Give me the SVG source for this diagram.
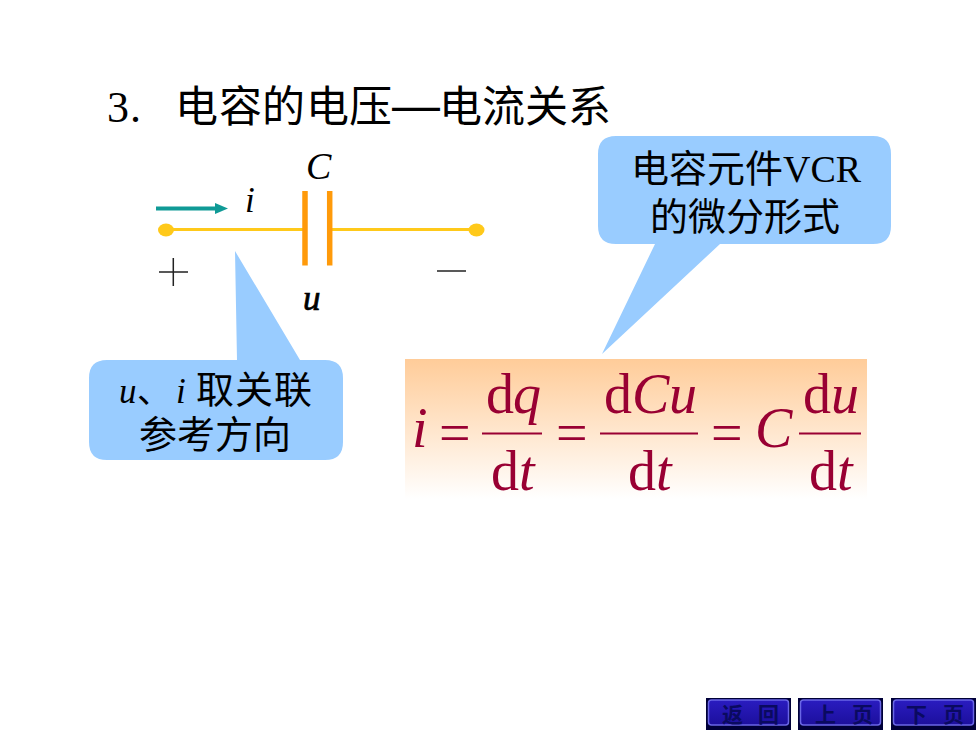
<svg xmlns="http://www.w3.org/2000/svg" width="980" height="735" viewBox="0 0 980 735">
<defs>
<linearGradient id="fade" x1="0" y1="0" x2="0" y2="1"><stop offset="0" stop-color="#ffcc99"/><stop offset="1" stop-color="#ffffff"/></linearGradient>
<linearGradient id="btn" x1="0" y1="0" x2="0" y2="1"><stop offset="0" stop-color="#2a1cc0"/><stop offset="1" stop-color="#1c0f9c"/></linearGradient>
</defs>
<style>
.cjk{font-family:"Noto Sans CJK SC",sans-serif;fill:#000;font-weight:400}
.it{font-family:"Liberation Serif","Noto Sans CJK SC",serif;font-style:italic;fill:#000}
.eq{font-family:"Liberation Serif",serif;fill:#990033;font-size:56px}
.eqi{font-style:italic}
.bub{fill:#99ccff}
.wire{stroke:#ffc91a;stroke-width:3;fill:none}
.plate{stroke:#ff9a0a;stroke-width:5.5;fill:none}
.fr{stroke:#990033;stroke-width:2}
.bt{font-family:"Noto Sans CJK SC",sans-serif;font-size:21px;fill:#0a0a60;font-weight:700}
.bo{fill:url(#btn);stroke:#6a66e6;stroke-width:1.5}
</style>
<rect width="980" height="735" fill="#fff"/>
<g id="title">
<text y="122" class="cjk" font-size="43"><tspan x="107" font-family="Liberation Serif,serif" font-size="44">3</tspan><tspan x="130" font-family="Liberation Serif,serif" font-size="44">.</tspan><tspan x="175 219 262 306 349">电容的电压</tspan><tspan x="392" font-family="Liberation Sans,sans-serif" font-size="48">—</tspan><tspan x="439 482 525 568">电流关系</tspan></text>
</g>
<g id="connectors">
<line class="wire" x1="166" y1="229.500" x2="304" y2="229.500"/>
<line class="wire" x1="329" y1="229.500" x2="476" y2="229.500"/>
<line x1="156" y1="208.500" x2="216" y2="208.500" stroke="#0f9a96" stroke-width="4"/>
<polygon points="215,203 228,208.500 215,214" fill="#0f9a96"/>
</g>
<g id="capacitor">
<line class="plate" x1="305" y1="191" x2="305" y2="265.500"/>
<line class="plate" x1="329.700" y1="191" x2="329.700" y2="265.500"/>
<text x="306" y="179" class="it" font-size="38">C</text>
</g>
<g id="terminal-plus">
<ellipse cx="166" cy="230" rx="8" ry="6.500" fill="#ffc91a"/>
<path d="M159 272H188M173.300 258V286" stroke="#222" stroke-width="1.500" fill="none"/>
</g>
<g id="terminal-minus">
<ellipse cx="476.500" cy="230" rx="8" ry="6.500" fill="#ffc91a"/>
<path d="M437 271H466" stroke="#222" stroke-width="1.500" fill="none"/>
</g>
<g id="label-i"><text x="245" y="212" class="it" font-size="35">i</text></g>
<g id="label-u"><text x="303" y="310" class="it" font-size="35" stroke="#000" stroke-width="0.700">u</text></g>
<g id="callout-left">
<path class="bub" d="M235 251L300 360H325Q343 360 343 378V442Q343 460 325 460H107Q89 460 89 442V378Q89 360 107 360H237Z"/>
<text y="403" class="cjk" font-size="38"><tspan x="119" class="it" font-size="35">u</tspan><tspan x="137" font-size="34">、</tspan><tspan x="176" class="it" font-size="35">i</tspan><tspan x="196 235 274">取关联</tspan></text>
<text y="448" class="cjk" font-size="38" x="139 177 215 253">参考方向</text>
</g>
<g id="callout-right">
<path class="bub" d="M602 354L655 244H616Q598 244 598 226V154Q598 136 616 136H873Q891 136 891 154V226Q891 244 873 244H720Z"/>
<text y="182" class="cjk" font-size="38"><tspan x="631 669 707 745">电容元件</tspan><tspan x="783" font-family="Liberation Serif,serif">VCR</tspan></text>
<text y="230" class="cjk" font-size="38" x="650 688 726 764 802">的微分形式</text>
</g>
<g id="equation">
<rect x="405" y="359" width="462" height="140" fill="url(#fade)"/>
<text x="412" y="447" class="eq eqi">i</text>
<text x="439" y="452" class="eq">=</text>
<text y="413" class="eq"><tspan x="486">d</tspan><tspan x="513" class="eqi">q</tspan></text>
<line class="fr" x1="482" y1="433.500" x2="542" y2="433.500"/>
<text y="490" class="eq"><tspan x="491">d</tspan><tspan x="519" class="eqi">t</tspan></text>
<text x="556" y="452" class="eq">=</text>
<text y="413" class="eq"><tspan x="604">d</tspan><tspan x="632" class="eqi">C</tspan><tspan x="669" class="eqi">u</tspan></text>
<line class="fr" x1="600" y1="433.500" x2="698" y2="433.500"/>
<text y="490" class="eq"><tspan x="628">d</tspan><tspan x="656" class="eqi">t</tspan></text>
<text x="711" y="452" class="eq">=</text>
<text x="755" y="447" class="eq eqi">C</text>
<text y="413" class="eq"><tspan x="803">d</tspan><tspan x="831" class="eqi">u</tspan></text>
<line class="fr" x1="799" y1="433.500" x2="861" y2="433.500"/>
<text y="490" class="eq"><tspan x="809">d</tspan><tspan x="837" class="eqi">t</tspan></text>
</g>
<g id="btn-back">
<rect x="706" y="698" width="85" height="32" fill="#000038"/>
<rect class="bo" x="708.500" y="700" width="80" height="25" rx="3"/>
<text x="722" y="722" class="bt">返</text><text x="758" y="722" class="bt">回</text>
</g>
<g id="btn-prev">
<rect x="798" y="698" width="85" height="32" fill="#000038"/>
<rect class="bo" x="800.500" y="700" width="80" height="25" rx="3"/>
<text x="815" y="722" class="bt">上</text><text x="852" y="722" class="bt">页</text>
</g>
<g id="btn-next">
<rect x="891" y="698" width="85" height="32" fill="#000038"/>
<rect class="bo" x="893.500" y="700" width="80" height="25" rx="3"/>
<text x="906" y="722" class="bt">下</text><text x="943" y="722" class="bt">页</text>
</g>
</svg>
